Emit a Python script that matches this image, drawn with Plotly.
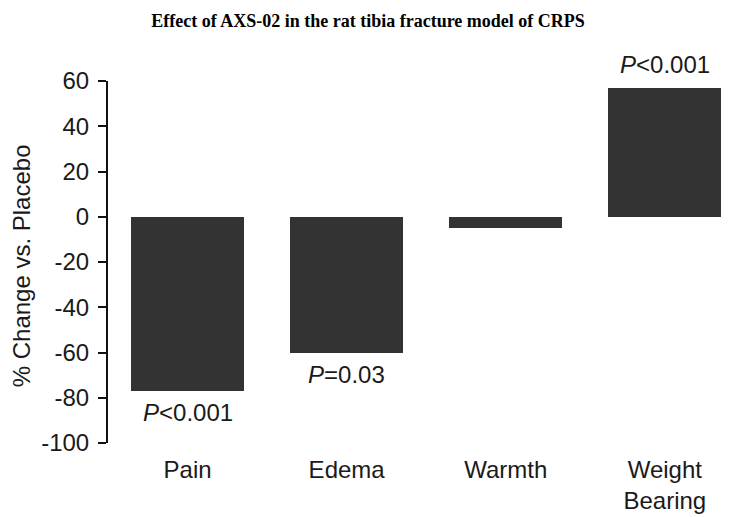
import plotly.graph_objects as go

categories = ["Pain", "Edema", "Warmth", "Weight<br>Bearing"]
values = [-77, -60, -5, 57]
p_labels = ["<i>P</i>&lt;0.001", "<i>P</i>=0.03", "", "<i>P</i>&lt;0.001"]
y_ticks = [-100, -80, -60, -40, -20, 0, 20, 40, 60]
y_tick_text = ["-100", "-80", "-60", "-40", "-20", "0", "20", "40", "60"]
boundary_ticks = [0.5, 1.5, 2.5]

FONT = "Liberation Sans, Arial, sans-serif"
TXT = "#1a1a1a"
XR = [-0.5, 3.46]

fig = go.Figure()
fig.add_trace(go.Bar(
    x=categories, y=values, width=0.71,
    marker=dict(color="#333333", line=dict(width=0)),
    showlegend=False, hoverinfo="skip",
))

for cat, v, lab in zip(categories, values, p_labels):
    if lab:
        fig.add_annotation(
            x=cat, y=v, xref="x", yref="y", text=lab, showarrow=False,
            yanchor="middle", yshift=23 if v > 0 else -22,
            font=dict(family=FONT, size=24, color=TXT),
        )

fig.add_annotation(
    x=-0.137, y=0.49, xref="paper", yref="paper", text="% Change vs. Placebo",
    textangle=-90, showarrow=False, xanchor="center", yanchor="middle",
    font=dict(family=FONT, size=24, color=TXT),
)

fig.update_layout(
    width=730, height=509,
    margin=dict(l=100, r=0, t=73, b=74),
    paper_bgcolor="white", plot_bgcolor="white",
    title=dict(
        text="<b>Effect of AXS-02 in the rat tibia fracture model of CRPS</b>",
        font=dict(family="Liberation Serif, Times New Roman, serif", size=18, color="black"),
        x=(368 - 8) / 730, xref="container", xanchor="center",
        y=1 - 13 / 509, yref="container", yanchor="middle",
    ),
    xaxis=dict(
        type="category", range=XR, showline=False, showgrid=False, zeroline=False,
        ticks="", tickfont=dict(family=FONT, size=24, color=TXT),
        ticklabelstandoff=10,
    ),
    xaxis2=dict(
        overlaying="x", anchor="free", position=0.625, range=XR, type="linear",
        showline=True, linewidth=2, linecolor="#111", showgrid=False, zeroline=False,
        tickvals=boundary_ticks, ticks="outside", ticklen=8, tickwidth=2, tickcolor="#111",
        showticklabels=False, side="bottom",
    ),
    yaxis=dict(
        range=[-100, 60], tickvals=y_ticks, ticktext=y_tick_text,
        showgrid=False, zeroline=False,
        showline=True, linewidth=2, linecolor="#111",
        ticks="outside", ticklen=8, tickwidth=2, tickcolor="#111",
        tickfont=dict(family=FONT, size=24, color=TXT),
        ticklabelstandoff=4,
    ),
    bargap=0,
)

fig.write_html("out.html")
